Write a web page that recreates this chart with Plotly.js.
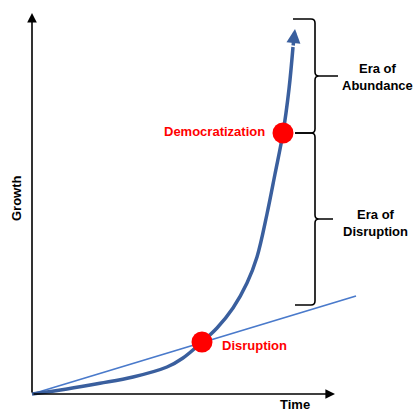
<!DOCTYPE html>
<html>
<head>
<meta charset="utf-8">
<script src="https://cdn.plot.ly/plotly-3.0.1.min.js"></script>
<style>html,body{margin:0;padding:0;background:#fff;}#chart{width:414px;height:412px;}</style>
</head>
<body>
<div id="chart"></div>
<script>
// Exponential growth curve (Time, Growth)
const curveTime   = [0, 35, 68, 101, 135, 151, 170, 185, 201, 215, 225, 235, 243, 251, 257, 261];
const curveGrowth = [0, 5, 10.7, 17, 27, 36, 52, 66, 86, 111, 137, 180, 220, 261, 305, 347];
const curveTip = [263, 365];
// Linear growth line
const lineTime   = [0, 324];
const lineGrowth = [0, 98];
// Key points
const pointLabels = ["Disruption", "Democratization"];
const pointTime   = [170, 251];
const pointGrowth = [52, 261];
// Eras
const eraLabels = ["Era of<br>Abundance", "Era of<br>Disruption"];
const eraFrom = [261, 89];
const eraTo   = [375, 261];
const axisTitles = {x: "Time", y: "Growth"};
const axisEnd = {x: 303, y: 381};

const curveColor = "#3a5f9e";
const lineColor = "#4a7acb";
const red = "#ff0000";
const fontFam = "Liberation Sans, Arial, sans-serif";

const traces = [
  {x: lineTime, y: lineGrowth, mode: "lines", line: {color: lineColor, width: 1.8}, hoverinfo: "skip"},
  {x: curveTime, y: curveGrowth, mode: "lines", line: {color: curveColor, width: 3.5, shape: "spline", smoothing: 1}, hoverinfo: "skip"},
  {x: pointTime, y: pointGrowth, mode: "markers", marker: {color: red, size: 21}, hoverinfo: "skip"}
];

function brace(yTop, yBot, xv, xLeftTop, xLeftBot, xTip) {
  const yMid = (yTop + yBot) / 2, r = 4;
  return `M ${xLeftTop} ${yTop} L ${xv - r} ${yTop} Q ${xv} ${yTop} ${xv} ${yTop - r} ` +
         `L ${xv} ${yMid + r} Q ${xv} ${yMid} ${xv + r} ${yMid} L ${xTip} ${yMid} ` +
         `M ${xv + r} ${yMid} Q ${xv} ${yMid} ${xv} ${yMid - r} ` +
         `L ${xv} ${yBot + r} Q ${xv} ${yBot} ${xv - r} ${yBot} L ${xLeftBot} ${yBot}`;
}

const shapes = [
  {type: "path", xref: "x", yref: "y", path: brace(eraTo[0], eraFrom[0], 283, 261, 263, 306), line: {color: "#000", width: 1.6}},
  {type: "path", xref: "x", yref: "y", path: brace(eraTo[1], eraFrom[1], 283, 263, 263, 301), line: {color: "#000", width: 1.6}}
];

const boldBlack = {family: fontFam, size: 13, color: "#000", weight: "bold"};
const boldRed = {family: fontFam, size: 13, color: red, weight: "bold"};

const annotations = [
  // axes arrows
  {x: 0, y: axisEnd.y, ax: 0, ay: 0, axref: "x", ayref: "y", xref: "x", yref: "y", text: "", showarrow: true, arrowhead: 2, arrowsize: 1.2, arrowwidth: 1.6, arrowcolor: "#000"},
  {x: axisEnd.x, y: 0, ax: 0, ay: 0, axref: "x", ayref: "y", xref: "x", yref: "y", text: "", showarrow: true, arrowhead: 2, arrowsize: 1.2, arrowwidth: 1.6, arrowcolor: "#000"},
  // curve arrow tip
  {x: curveTip[0], y: curveTip[1], ax: curveTime[curveTime.length - 1], ay: curveGrowth[curveGrowth.length - 1], axref: "x", ayref: "y", xref: "x", yref: "y", text: "", showarrow: true, arrowhead: 2, arrowsize: 0.8, arrowwidth: 3.5, arrowcolor: curveColor},
  // labels
  {x: pointTime[0] + 18, y: pointGrowth[0] - 3, xref: "x", yref: "y", text: pointLabels[0], showarrow: false, xanchor: "left", yanchor: "middle", font: boldRed},
  {x: pointTime[1] - 16, y: pointGrowth[1] + 2, xref: "x", yref: "y", text: pointLabels[1], showarrow: false, xanchor: "right", yanchor: "middle", font: boldRed},
  {x: 345, y: (eraFrom[0] + eraTo[0]) / 2 - 1, xref: "x", yref: "y", text: eraLabels[0], showarrow: false, xanchor: "center", yanchor: "middle", font: boldBlack},
  {x: 343, y: (eraFrom[1] + eraTo[1]) / 2 - 4, xref: "x", yref: "y", text: eraLabels[1], showarrow: false, xanchor: "center", yanchor: "middle", font: boldBlack},
  {x: -16, y: 196, xref: "x", yref: "y", text: axisTitles.y, textangle: -90, showarrow: false, xanchor: "center", yanchor: "middle", font: boldBlack},
  {x: 263, y: -10, xref: "x", yref: "y", text: axisTitles.x, showarrow: false, xanchor: "center", yanchor: "middle", font: boldBlack}
];

const layout = {
  width: 414, height: 412,
  margin: {l: 0, r: 0, t: 0, b: 0},
  paper_bgcolor: "#fff", plot_bgcolor: "#fff",
  showlegend: false,
  xaxis: {range: [-32, 382], visible: false, fixedrange: true},
  yaxis: {range: [-18, 394], visible: false, fixedrange: true},
  shapes: shapes,
  annotations: annotations
};

Plotly.newPlot("chart", traces, layout, {staticPlot: true, displayModeBar: false});
</script>
</body>
</html>
